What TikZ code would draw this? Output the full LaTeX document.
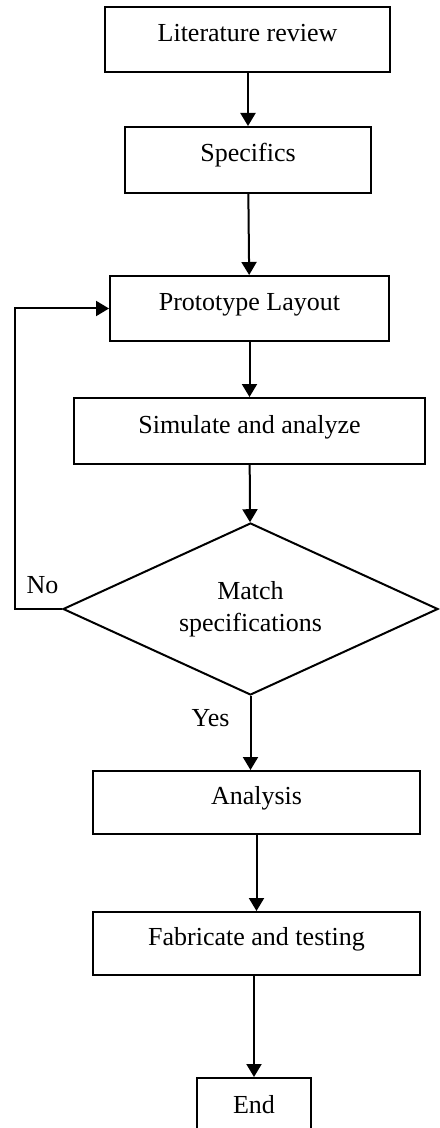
\documentclass[tikz,border=0pt]{standalone}
\usepackage{fontspec}
\setmainfont{Liberation Serif}
\usetikzlibrary{shapes.geometric,arrows.meta}

\begin{document}
\begin{tikzpicture}[x=0.5pt,y=-0.5pt,line width=1pt,
        font=\fontsize{13}{16}\selectfont,
        box/.style={draw,rectangle,text height=6pt,text depth=4pt,minimum height=32.5pt},
        arr/.style={-{Triangle[length=6.5pt,width=7.5pt]}}]
        \useasboundingbox(0,0)rectangle(439,1128);
        \node(lit)at(247.5,39.5)[box,minimum width=142.5pt]{Literature review};
        \node(spec)at(248,160)[box,minimum width=123pt,minimum height=33pt]{Specifics};
        \node(proto)at(249.5,308.5)[box,minimum width=139.5pt]{Prototype Layout};
        \node(sim)at(249.5,431)[box,minimum width=175.5pt,minimum height=33pt]{Simulate and analyze};
        \node(match)at(250.5,609)[draw,diamond,aspect=2.18,align=center,inner sep=0pt,minimum width=187.5pt,minimum height=86pt]{Match\\specifications};
        \node(ana)at(256.5,802.5)[box,minimum width=163.5pt,minimum height=31.5pt]{Analysis};
        \node(fab)at(256.5,943.5)[box,minimum width=163.5pt,minimum height=31.5pt]{Fabricate and testing};
        \node(end)at(254,1111)[box,minimum width=57pt,minimum height=33pt]{End};
        \node(no)at(42.5,585){No};
        \node(yes)at(210.5,718){Yes};
        \draw[arr](lit.south-|spec)--(spec);
        \draw[arr](spec)--(proto);
        \draw[arr](proto)--(sim);
        \draw[arr](sim)--(match);
        \draw[arr](match.south)--(ana.north-|match.south);
        \draw[arr](ana)--(fab);
        \draw[arr](fab.south-|end)--(end);
        \draw[arr](match.west)--++(-47,0)|-(proto.west);
    \end{tikzpicture}
\end{document}
